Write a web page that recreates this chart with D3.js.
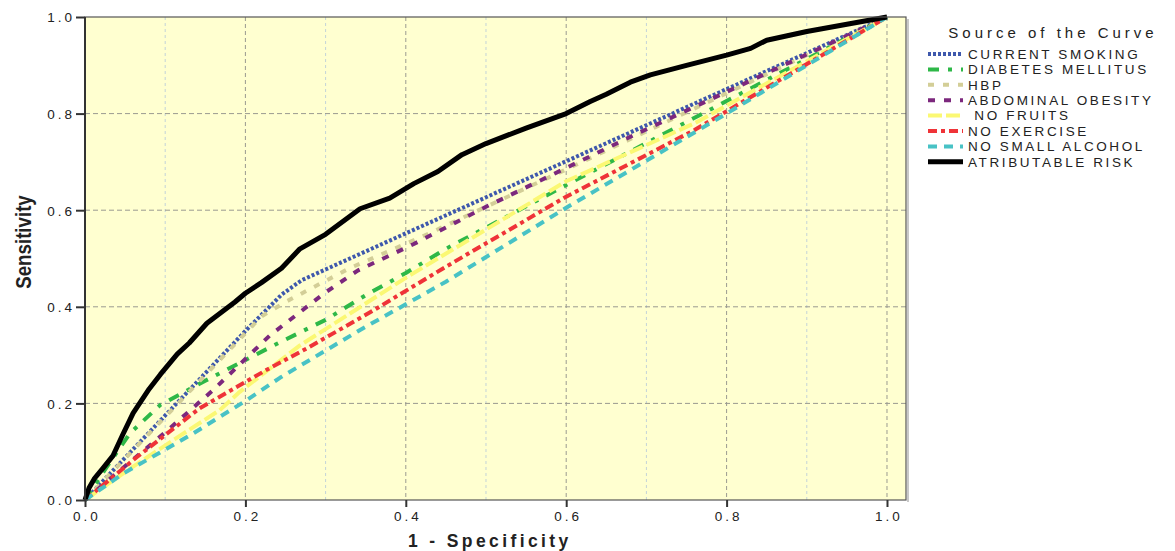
<!DOCTYPE html>
<html lang="en">
<head>
  <meta charset="UTF-8" />
  <script src="https://d3js.org/d3.v7.min.js"></script>
  <style>
    body { margin: 0; background: #fff; overflow: hidden; }
    svg { display: block; }
    text { font-family: "Liberation Sans", Arial, sans-serif; fill: #222; }
  </style>
</head>
<body>
  <svg width="1175" height="551"></svg>
  <script>
    // ROC curves, [1 - specificity, sensitivity]
    const smoking = [[0, 0], [0.1, 0.175], [0.2, 0.35], [0.245, 0.425], [0.27, 0.455], [1, 1]];
    const diabetes = [[0, 0], [0.027, 0.068], [0.056, 0.138], [0.094, 0.197], [0.15, 0.247], [0.24, 0.324],
      [0.3, 0.373], [0.35, 0.424], [0.4, 0.47], [0.45, 0.52], [0.6, 0.652], [0.77, 0.8], [1, 1]];
    const hbp = [[0, 0], [0.1, 0.172], [0.22, 0.38], [0.25, 0.41], [0.29, 0.445], [0.33, 0.48],
      [0.42, 0.545], [0.62, 0.7], [1, 1]];
    const obesity = [[0, 0], [0.1, 0.14], [0.16, 0.228], [0.23, 0.34], [0.3, 0.43], [0.34, 0.475],
      [0.41, 0.53], [0.5, 0.607], [0.68, 0.752], [1, 1]];
    const noFruits = [[0, 0], [0.05, 0.058], [0.11, 0.124], [0.168, 0.186], [0.193, 0.224], [0.268, 0.32],
      [0.318, 0.373], [0.4, 0.46], [0.6, 0.66], [0.76, 0.78], [1, 1]];
    const noExercise = [[0, 0], [0.064, 0.088], [0.143, 0.19], [0.226, 0.269], [0.28, 0.317], [0.36, 0.393],
      [0.45, 0.483], [0.6, 0.628], [0.76, 0.766], [1, 1]];
    const noAlcohol = [[0, 0], [0.048, 0.055], [0.135, 0.138], [0.2, 0.205], [0.243, 0.253], [0.343, 0.352],
      [0.45, 0.452], [0.6, 0.605], [0.8, 0.8], [1, 1]];
    const attributable = [[0, 0], [0.005, 0.025], [0.012, 0.045], [0.022, 0.065], [0.035, 0.092], [0.047, 0.135],
      [0.06, 0.18], [0.08, 0.23], [0.094, 0.26], [0.115, 0.302], [0.13, 0.325], [0.152, 0.366], [0.187, 0.41],
      [0.2, 0.428], [0.22, 0.45], [0.245, 0.48], [0.268, 0.52], [0.3, 0.55], [0.343, 0.603], [0.38, 0.625],
      [0.41, 0.655], [0.44, 0.68], [0.47, 0.715], [0.5, 0.738], [0.55, 0.77], [0.6, 0.8], [0.63, 0.825],
      [0.65, 0.84], [0.68, 0.865], [0.705, 0.88], [0.75, 0.9], [0.8, 0.921], [0.83, 0.935], [0.85, 0.952],
      [0.9, 0.97], [0.95, 0.985], [1, 1]];

    const seriesNames = ["CURRENT SMOKING", "DIABETES MELLITUS", "HBP", "ABDOMINAL OBESITY",
      " NO FRUITS", "NO EXERCISE", "NO SMALL ALCOHOL", "ATRIBUTABLE RISK"];
    const seriesData = [smoking, diabetes, hbp, obesity, noFruits, noExercise, noAlcohol, attributable];
    const colors = ["#3e58ac", "#2eb848", "#d3ce97", "#7c287d", "#fbf873", "#ef3338", "#48c2c5", "#000000"];
    const dashes = ["3,2", "11,9,4,9", "6,9", "7,9", "14,4", "9,4,4,4", "9,7", null];
    const widths = [4, 4, 4, 4, 4, 4, 4, 5];

    const majorTicks = [0, 0.2, 0.4, 0.6, 0.8, 1.0];
    const minorTicks = [0.1, 0.3, 0.5, 0.7, 0.9];

    const svg = d3.select("svg");
    const plotLeft = 85, plotRight = 906, plotTop = 17, plotBottom = 500;

    const x = d3.scaleLinear().domain([0, 1.0237]).range([plotLeft, plotRight]);
    const y = d3.scaleLinear().domain([0, 1]).range([plotBottom, plotTop]);

    // plot background
    svg.append("rect")
      .attr("x", plotLeft).attr("y", plotTop)
      .attr("width", plotRight - plotLeft).attr("height", plotBottom - plotTop)
      .attr("fill", "#ffffd0");

    // minor vertical grid
    svg.append("g").selectAll("line")
      .data(minorTicks)
      .join("line")
      .attr("x1", d => x(d)).attr("x2", d => x(d))
      .attr("y1", plotTop).attr("y2", plotBottom)
      .attr("stroke", "#c3d3d8").attr("stroke-width", 1)
      .attr("stroke-dasharray", "3,3");

    // major grid
    svg.append("g").selectAll("line")
      .data(majorTicks.slice(1))
      .join("line")
      .attr("x1", d => x(d)).attr("x2", d => x(d))
      .attr("y1", plotTop).attr("y2", plotBottom)
      .attr("stroke", "#9a9a90").attr("stroke-width", 1)
      .attr("stroke-dasharray", "4,3");
    svg.append("g").selectAll("line")
      .data(majorTicks.slice(1, -1))
      .join("line")
      .attr("x1", plotLeft).attr("x2", plotRight)
      .attr("y1", d => y(d)).attr("y2", d => y(d))
      .attr("stroke", "#9a9a90").attr("stroke-width", 1)
      .attr("stroke-dasharray", "5,3");

    // curves
    const line = d3.line().x(d => x(d[0])).y(d => y(d[1]));
    seriesData.forEach((data, i) => {
      svg.append("path")
        .datum(data)
        .attr("d", line)
        .attr("fill", "none")
        .attr("stroke", colors[i])
        .attr("stroke-width", widths[i])
        .attr("stroke-dasharray", dashes[i])
        .attr("stroke-linejoin", "round");
    });

    // frame
    svg.append("rect")
      .attr("x", plotRight + 1).attr("y", plotTop + 2)
      .attr("width", 2).attr("height", plotBottom - plotTop)
      .attr("fill", "#c8c8c8");
    svg.append("rect")
      .attr("x", plotLeft).attr("y", plotTop)
      .attr("width", plotRight - plotLeft).attr("height", plotBottom - plotTop)
      .attr("fill", "none").attr("stroke", "#555").attr("stroke-width", 1.2);
    svg.append("line")
      .attr("x1", plotLeft).attr("x2", plotLeft).attr("y1", plotTop).attr("y2", plotBottom)
      .attr("stroke", "#333").attr("stroke-width", 2);

    // axes
    const xAxis = svg.append("g")
      .attr("transform", `translate(0,${plotBottom})`)
      .call(d3.axisBottom(x).tickValues(majorTicks).tickFormat(d3.format(".1f")).tickSize(7).tickPadding(4));
    const yAxis = svg.append("g")
      .attr("transform", `translate(${plotLeft},0)`)
      .call(d3.axisLeft(y).tickValues(majorTicks).tickFormat(d3.format(".1f")).tickSize(9).tickPadding(1));
    [xAxis, yAxis].forEach(g => {
      g.select(".domain").remove();
      g.selectAll(".tick line").attr("stroke", "#333").attr("stroke-width", 2);
      g.selectAll(".tick text")
        .attr("font-size", 13.5)
        .attr("letter-spacing", "3px")
        .attr("fill", "#222")
        .attr("font-family", "Liberation Sans, Arial, sans-serif");
    });
    xAxis.selectAll(".tick text").attr("dx", "1.5px");
    yAxis.selectAll(".tick text").attr("dy", "0.36em");

    // axis titles
    svg.append("text")
      .attr("x", 488).attr("y", 547)
      .attr("dx", "1.8px")
      .attr("text-anchor", "middle")
      .attr("font-family", "DejaVu Sans, Verdana, sans-serif")
      .attr("font-size", 17.5).attr("font-weight", "bold")
      .attr("letter-spacing", "3.4px")
      .text("1 - Specificity");
    svg.append("text")
      .attr("transform", "translate(31,242) rotate(-90) scale(0.85,1)")
      .attr("text-anchor", "middle")
      .attr("font-size", 22).attr("font-weight", "bold")
      .text("Sensitivity");

    // legend
    const legend = svg.append("g");
    legend.append("text")
      .attr("x", 1053).attr("y", 38)
      .attr("text-anchor", "middle")
      .attr("font-size", 15)
      .attr("letter-spacing", "4px")
      .text("Source of the Curve");
    seriesNames.forEach((name, i) => {
      const yy = 54 + i * 15.4;
      legend.append("line")
        .attr("x1", 928).attr("x2", 963)
        .attr("y1", yy).attr("y2", yy)
        .attr("stroke", colors[i])
        .attr("stroke-width", widths[i])
        .attr("stroke-dasharray", dashes[i]);
      legend.append("text")
        .attr("x", 968).attr("y", yy)
        .attr("dy", "0.36em")
        .attr("font-size", 13.5)
        .attr("letter-spacing", "2.6px")
        .attr("xml:space", "preserve")
        .style("white-space", "pre")
        .text(name);
    });
  </script>
</body>
</html>
